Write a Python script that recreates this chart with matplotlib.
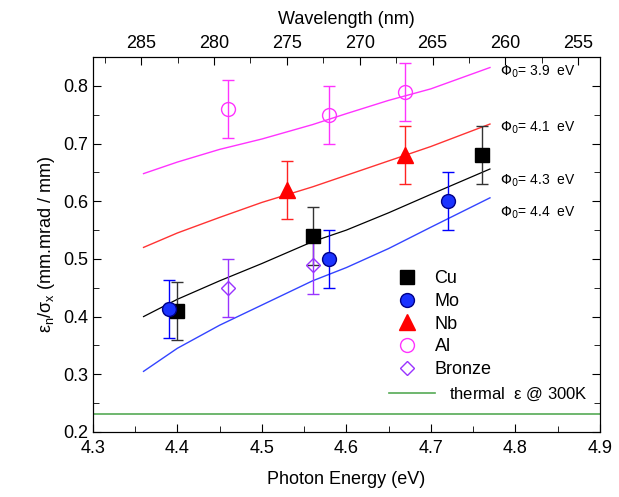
import matplotlib
matplotlib.use("Agg")
import matplotlib.pyplot as plt
import numpy as np
from matplotlib.ticker import MultipleLocator
from matplotlib.lines import Line2D

plt.rcParams['font.family'] = ['Liberation Sans', 'DejaVu Sans']

# ---- data ----
cu_x = [4.40, 4.56, 4.76]
cu_y = [0.41, 0.54, 0.68]
cu_err = [0.05, 0.05, 0.05]

mo_x = [4.39, 4.58, 4.72]
mo_y = [0.413, 0.50, 0.60]
mo_err = [0.05, 0.05, 0.05]

nb_x = [4.53, 4.67]
nb_y = [0.62, 0.68]
nb_err = [0.05, 0.05]

al_x = [4.46, 4.58, 4.67]
al_y = [0.76, 0.75, 0.79]
al_err = [0.05, 0.05, 0.05]

br_x = [4.46, 4.56]
br_y = [0.45, 0.49]
br_err = [0.05, 0.05]

curve_x = [4.36, 4.40, 4.45, 4.50, 4.56, 4.60, 4.65, 4.70, 4.77]
phi39_y = [0.648, 0.668, 0.690, 0.708, 0.733, 0.752, 0.775, 0.795, 0.832]
phi41_y = [0.520, 0.545, 0.572, 0.598, 0.625, 0.645, 0.670, 0.695, 0.734]
phi43_y = [0.400, 0.430, 0.462, 0.492, 0.530, 0.550, 0.580, 0.612, 0.656]
phi44_y = [0.305, 0.345, 0.385, 0.420, 0.462, 0.485, 0.518, 0.555, 0.606]
curve_labels = ["3.9", "4.1", "4.3", "4.4"]
label_y = [0.825, 0.727, 0.635, 0.58]

thermal = 0.231
wl_lim = (288.32, 253.52)

fig = plt.figure(figsize=(6.19, 4.97), dpi=100)
ax = fig.add_axes([0.150, 0.131, 0.819, 0.754])

ax.plot(curve_x, phi39_y, color='#ff33ff', lw=1)
ax.plot(curve_x, phi41_y, color='#ff3333', lw=1)
ax.plot(curve_x, phi43_y, color='black', lw=0.9)
ax.plot(curve_x, phi44_y, color='#3344ff', lw=1)

ax.axhline(thermal, color='#55aa55', lw=1.2)

kw = dict(capsize=4, elinewidth=1, capthick=1, linestyle='none')
ax.errorbar(cu_x, cu_y, yerr=cu_err, fmt='s', color='#333333', mfc='black', mec='black', ms=10, **kw)
ax.errorbar(mo_x, mo_y, yerr=mo_err, fmt='o', color='#0000ff', mfc='#1a33ff', mec='#000088', ms=10, **kw)
ax.plot(np.array(mo_x) - 0.004, np.array(mo_y) + 0.008, 'o', color='#aab8ff', ms=3, mec='none')
ax.errorbar(nb_x, nb_y, yerr=nb_err, fmt='^', color='#ff2222', mfc='#ff0000', mec='#ff0000', ms=11, **kw)
ax.errorbar(al_x, al_y, yerr=al_err, fmt='o', color='#ff33ff', mfc='none', mec='#ff33ff', ms=10, mew=1, **kw)
ax.errorbar(br_x, br_y, yerr=br_err, fmt='D', color='#9933ff', mfc='none', mec='#9933ff', ms=7, mew=1, **kw)

for lab, yy in zip(curve_labels, label_y):
    ax.text(4.782, yy, r"$\Phi_0$= " + lab + "  eV", fontsize=10, va='center', ha='left')

ax.set_xlim(4.3, 4.9)
ax.set_ylim(0.2, 0.85)
ax.xaxis.set_major_locator(MultipleLocator(0.1))
ax.xaxis.set_minor_locator(MultipleLocator(0.05))
ax.yaxis.set_major_locator(MultipleLocator(0.1))
ax.yaxis.set_minor_locator(MultipleLocator(0.05))
ax.tick_params(which='both', direction='in', right=True, labelsize=13)
ax.tick_params(which='major', length=6)
ax.tick_params(which='minor', length=4)
ax.tick_params(axis='x', pad=6)
ax.set_xlabel("Photon Energy (eV)", fontsize=13, labelpad=10)
ax.set_ylabel(r"$\mathregular{\varepsilon_n/\sigma_x}$ (mm.mrad / mm)", fontsize=13)

top = ax.twiny()
top.set_xlim(*wl_lim)
top.xaxis.set_major_locator(MultipleLocator(5))
top.xaxis.set_minor_locator(MultipleLocator(2.5))
top.tick_params(which='both', direction='in', labelsize=13)
top.tick_params(which='major', length=6)
top.tick_params(which='minor', length=4)
top.set_xlabel("Wavelength (nm)", fontsize=13, labelpad=8)

handles = [
    Line2D([], [], marker='s', color='black', ls='none', ms=10),
    Line2D([], [], marker='o', color='#1a33ff', mec='#000088', ls='none', ms=10),
    Line2D([], [], marker='^', color='#ff0000', ls='none', ms=11),
    Line2D([], [], marker='o', mfc='none', mec='#ff33ff', ls='none', ms=10),
    Line2D([], [], marker='D', mfc='none', mec='#9933ff', ls='none', ms=7),
]
leg = ax.legend(handles, ["Cu", "Mo", "Nb", "Al", "Bronze"], loc='upper left',
                bbox_to_anchor=(0.56, 0.475), frameon=False, fontsize=13,
                handletextpad=0.8, labelspacing=0.32, handlelength=1.5)
ax.add_artist(leg)
leg2 = ax.legend([Line2D([], [], color='#55aa55', lw=1.2)],
                 [r"thermal  $\mathregular{\varepsilon}$ @ 300K"],
                 loc='center right', bbox_to_anchor=(1.005, 0.10), frameon=False, fontsize=12,
                 handlelength=2.8)

fig.savefig("out.png", dpi=100)
